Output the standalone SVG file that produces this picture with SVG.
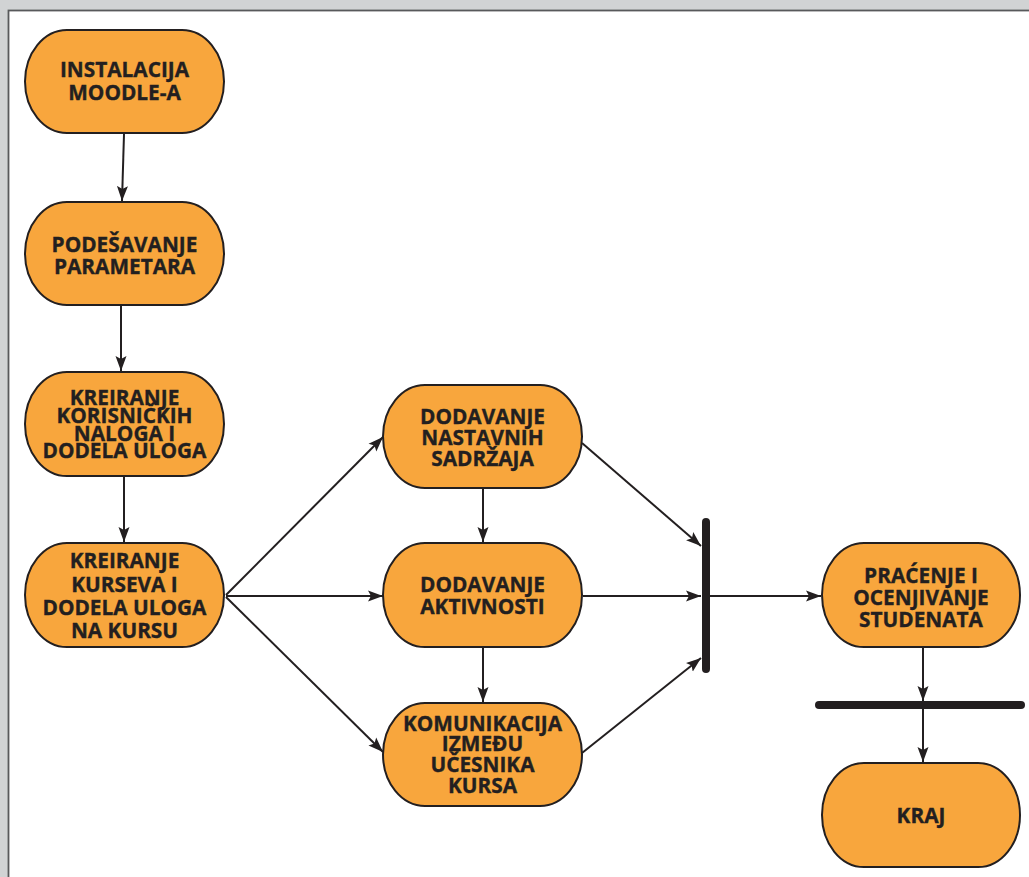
<svg xmlns="http://www.w3.org/2000/svg" width="1029" height="877" viewBox="0 0 1029 877">
  <style>
    .node rect { fill: #f8a63d; stroke: #231f20; stroke-width: 2; }
    .node text { font-family: "Open Sans", "Liberation Sans", sans-serif; font-weight: 700; font-size: 20.8px; fill: #231f20; stroke: #231f20; stroke-width: 0.35; text-anchor: middle; }
    .edge { stroke: #231f20; stroke-width: 2; fill: none; marker-end: url(#arrow); }
    .bar { stroke: #231f20; stroke-width: 8; stroke-linecap: round; }
  </style>
  <defs>
    <marker id="arrow" markerUnits="userSpaceOnUse" markerWidth="16" markerHeight="12" refX="15" refY="6" orient="auto">
      <path d="M0,0.5 L15,6 L0,11.5 L3,6 z" fill="#231f20"/>
    </marker>
  </defs>

  <!-- page background and sheet -->
  <rect x="0" y="0" width="1029" height="877" fill="#d1d3d4"/>
  <rect x="8.5" y="10.5" width="1040" height="880" fill="#ffffff" stroke="#58595b" stroke-width="1.8"/>

  <!-- connectors -->
  <g id="connectors">
    <line class="edge" x1="124" y1="134" x2="122" y2="201"/>
    <line class="edge" x1="121" y1="306" x2="121" y2="371"/>
    <line class="edge" x1="124" y1="477" x2="124" y2="542"/>
    <line class="edge" x1="226" y1="595" x2="383" y2="437"/>
    <line class="edge" x1="226" y1="596" x2="383" y2="596"/>
    <line class="edge" x1="226" y1="597" x2="383" y2="752"/>
    <line class="edge" x1="483" y1="489" x2="483" y2="542"/>
    <line class="edge" x1="483" y1="648" x2="483" y2="702"/>
    <line class="edge" x1="582" y1="443" x2="701" y2="546"/>
    <line class="edge" x1="583" y1="596" x2="701" y2="596"/>
    <line class="edge" x1="582" y1="753" x2="701" y2="658"/>
    <line class="edge" x1="710" y1="596" x2="821" y2="596"/>
    <line class="edge" x1="923" y1="648" x2="923" y2="701"/>
    <line class="edge" x1="923" y1="706" x2="923" y2="762"/>
    <line class="bar" x1="706" y1="522" x2="706" y2="669"/>
    <line class="bar" x1="819" y1="705" x2="1021" y2="705"/>
  </g>

  <g id="n-instalacija" class="node">
    <rect x="25" y="30" width="199" height="103" rx="42" ry="51.5"/>
    <text x="124.5" y="77">INSTALACIJA</text>
    <text x="124.5" y="100">MOODLE-A</text>
  </g>

  <g id="n-podesavanje" class="node">
    <rect x="25" y="202" width="199" height="103" rx="42" ry="51.5"/>
    <text x="124.5" y="252">PODEŠAVANJE</text>
    <text x="124.5" y="274">PARAMETARA</text>
  </g>

  <g id="n-korisnici" class="node">
    <rect x="25" y="372" width="199" height="104" rx="42" ry="52"/>
    <text x="124.5" y="405">KREIRANJE</text>
    <text x="124.5" y="423">KORISNIČKIH</text>
    <text x="124.5" y="440.5">NALOGA I</text>
    <text x="124.5" y="458">DODELA ULOGA</text>
  </g>

  <g id="n-kursevi" class="node">
    <rect x="25" y="543" width="199" height="104" rx="42" ry="52"/>
    <text x="124.5" y="568">KREIRANJE</text>
    <text x="124.5" y="591.5">KURSEVA I</text>
    <text x="124.5" y="615">DODELA ULOGA</text>
    <text x="124.5" y="638">NA KURSU</text>
  </g>

  <g id="n-sadrzaji" class="node">
    <rect x="383" y="385" width="199" height="103" rx="42" ry="51.5"/>
    <text x="482.5" y="424">DODAVANJE</text>
    <text x="482.5" y="445">NASTAVNIH</text>
    <text x="482.5" y="465.5">SADRŽAJA</text>
  </g>

  <g id="n-aktivnosti" class="node">
    <rect x="383" y="543" width="199" height="104" rx="42" ry="52"/>
    <text x="482.5" y="592">DODAVANJE</text>
    <text x="482.5" y="614">AKTIVNOSTI</text>
  </g>

  <g id="n-komunikacija" class="node">
    <rect x="383" y="703" width="199" height="103" rx="42" ry="51.5"/>
    <text x="482.5" y="731">KOMUNIKACIJA</text>
    <text x="482.5" y="751">IZMEĐU</text>
    <text x="482.5" y="772">UČESNIKA</text>
    <text x="482.5" y="793">KURSA</text>
  </g>

  <g id="n-pracenje" class="node">
    <rect x="822" y="543" width="198" height="104" rx="42" ry="52"/>
    <text x="921" y="583">PRAĆENJE I</text>
    <text x="921" y="605">OCENJIVANJE</text>
    <text x="921" y="627">STUDENATA</text>
  </g>

  <g id="n-kraj" class="node">
    <rect x="822" y="763" width="198" height="104" rx="42" ry="52"/>
    <text x="921" y="823">KRAJ</text>
  </g>
</svg>
